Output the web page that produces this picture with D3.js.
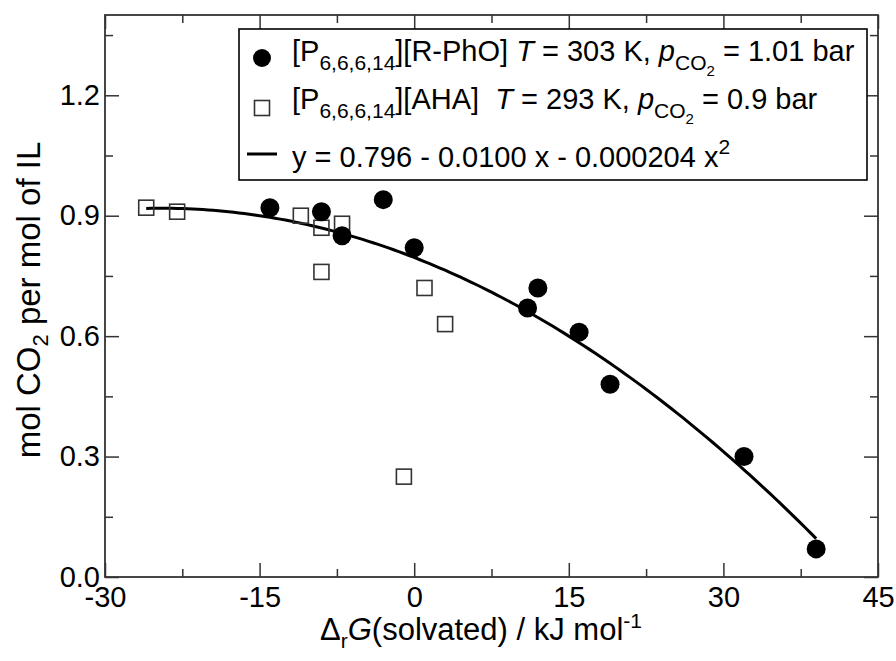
<!DOCTYPE html>
<html>
<head>
<meta charset="utf-8">
<script src="https://cdn.jsdelivr.net/npm/d3@7"></script>
<style>
  body { margin: 0; background: #fff; }
  text { font-family: "Liberation Sans", Arial, Helvetica, sans-serif; white-space: pre; }
</style>
</head>
<body>
<script>
// [P6,6,6,14][R-PhO] data (filled circles)
var phoX = [-14, -9, -7, -3, 0, 11, 12, 16, 19, 32, 39];
var phoY = [0.92, 0.91, 0.85, 0.94, 0.82, 0.67, 0.72, 0.61, 0.48, 0.30, 0.07];
// [P6,6,6,14][AHA] data (open squares)
var ahaX = [-26, -23, -11, -9, -7, -9, 1, 3, -1];
var ahaY = [0.92, 0.91, 0.90, 0.87, 0.88, 0.76, 0.72, 0.63, 0.25];
// fitted quadratic y = a + b x + c x^2, drawn over this x range
var fitCoef = [0.796, -0.0100, -0.000204];
var fitRange = [-26, 39];

var xTicks = [-30, -15, 0, 15, 30, 45];
var xMinor = [-22.5, -7.5, 7.5, 22.5, 37.5];
var yTicks = [0, 0.3, 0.6, 0.9, 1.2];
var yMinor = [0.15, 0.45, 0.75, 1.05, 1.35];

var w = 896, h = 661;
var pLeft = 105, pRight = 878, pTop = 15, pBottom = 577;

var svg = d3.select("body")
    .append("svg")
    .attr("width", w)
    .attr("height", h);

var x = d3.scaleLinear().domain([-30, 45]).range([pLeft, pRight]);
var y = d3.scaleLinear().domain([0, 1.4]).range([pBottom, pTop]);

function styleAxis(g) {
    g.select(".domain").remove();
    g.selectAll("line").attr("stroke", "#333").attr("stroke-width", 1.5);
    g.selectAll("text")
        .attr("font-family", "Liberation Sans, Arial, sans-serif")
        .attr("font-size", "29px")
        .attr("fill", "#000");
}

// major ticks with labels
svg.append("g")
    .attr("transform", "translate(0," + pBottom + ")")
    .call(d3.axisBottom(x).tickValues(xTicks).tickSize(-14).tickPadding(9)
        .tickFormat(function(d){ return String(d); }))
    .call(styleAxis);
svg.append("g")
    .attr("transform", "translate(" + pLeft + ",0)")
    .call(d3.axisLeft(y).tickValues(yTicks).tickSize(-14).tickPadding(5)
        .tickFormat(d3.format(".1f")))
    .call(styleAxis);
// mirrored ticks on top and right
svg.append("g")
    .attr("transform", "translate(0," + pTop + ")")
    .call(d3.axisTop(x).tickValues(xTicks).tickSize(-14).tickFormat(""))
    .call(styleAxis);
svg.append("g")
    .attr("transform", "translate(" + pRight + ",0)")
    .call(d3.axisRight(y).tickValues(yTicks).tickSize(-14).tickFormat(""))
    .call(styleAxis);
// minor ticks
svg.append("g").attr("transform", "translate(0," + pBottom + ")")
    .call(d3.axisBottom(x).tickValues(xMinor).tickSize(-8).tickFormat("")).call(styleAxis);
svg.append("g").attr("transform", "translate(0," + pTop + ")")
    .call(d3.axisTop(x).tickValues(xMinor).tickSize(-8).tickFormat("")).call(styleAxis);
svg.append("g").attr("transform", "translate(" + pLeft + ",0)")
    .call(d3.axisLeft(y).tickValues(yMinor).tickSize(-8).tickFormat("")).call(styleAxis);
svg.append("g").attr("transform", "translate(" + pRight + ",0)")
    .call(d3.axisRight(y).tickValues(yMinor).tickSize(-8).tickFormat("")).call(styleAxis);

// frame
svg.append("rect")
    .attr("x", pLeft)
    .attr("y", pTop)
    .attr("width", pRight - pLeft)
    .attr("height", pBottom - pTop)
    .attr("fill", "none")
    .attr("stroke", "#333")
    .attr("stroke-width", 1.8);

// fit curve
var fitPts = d3.range(fitRange[0], fitRange[1] + 0.01, 0.5).map(function(v){
    return [v, fitCoef[0] + fitCoef[1] * v + fitCoef[2] * v * v];
});
svg.append("path")
    .datum(fitPts)
    .attr("d", d3.line()
        .x(function(d){ return x(d[0]); })
        .y(function(d){ return y(d[1]); }))
    .attr("fill", "none")
    .attr("stroke", "#000")
    .attr("stroke-width", 3);

// open squares
svg.selectAll("rect.aha")
    .data(ahaX)
    .enter()
    .append("rect")
    .attr("class", "aha")
    .attr("x", function(d){ return x(d) - 7.5; })
    .attr("y", function(d, i){ return y(ahaY[i]) - 7.5; })
    .attr("width", 15)
    .attr("height", 15)
    .attr("fill", "none")
    .attr("stroke", "#333")
    .attr("stroke-width", 1.6);

// filled circles
svg.selectAll("circle.pho")
    .data(phoX)
    .enter()
    .append("circle")
    .attr("class", "pho")
    .attr("cx", function(d){ return x(d); })
    .attr("cy", function(d, i){ return y(phoY[i]); })
    .attr("r", 9.5)
    .attr("fill", "#000");

// legend
var lg = svg.append("g");
lg.append("rect")
    .attr("x", 239).attr("y", 29)
    .attr("width", 628).attr("height", 151)
    .attr("fill", "#fff")
    .attr("stroke", "#000")
    .attr("stroke-width", 1.6);
lg.append("circle").attr("cx", 262).attr("cy", 58).attr("r", 9).attr("fill", "#000");
lg.append("rect").attr("x", 254.5).attr("y", 100.5).attr("width", 15).attr("height", 15)
    .attr("fill", "none").attr("stroke", "#333").attr("stroke-width", 1.6);
lg.append("line").attr("x1", 247).attr("x2", 277).attr("y1", 154).attr("y2", 154)
    .attr("stroke", "#000").attr("stroke-width", 3);

// rich text helper: parts = [text, {size, dy, italic}]
function rich(g, px, py, parts, size) {
    var t = g.append("text").attr("x", px).attr("y", py)
        .attr("font-size", size + "px").attr("fill", "#000");
    parts.forEach(function(p){
        var s = t.append("tspan").text(p[0]);
        if (p[1]) {
            if (p[1].size) s.attr("font-size", p[1].size + "px");
            if (p[1].dy) s.attr("dy", p[1].dy);
            if (p[1].italic) s.attr("font-style", "italic");
        }
    });
    return t;
}

rich(lg, 292, 61, [
    ["[P"], ["6,6,6,14", {size: 21, dy: 9}], ["][R-PhO] ", {dy: -9}],
    ["T", {italic: true}], [" = 303 K, "], ["p", {italic: true}],
    ["CO", {size: 21, dy: 9}], ["2", {size: 15, dy: 6}], [" = 1.01 bar", {dy: -15}]
], 29);
rich(lg, 292, 109, [
    ["[P"], ["6,6,6,14", {size: 21, dy: 9}], ["][AHA]  ", {dy: -9}],
    ["T", {italic: true}], [" = 293 K, "], ["p", {italic: true}],
    ["CO", {size: 21, dy: 9}], ["2", {size: 15, dy: 6}], [" = 0.9 bar", {dy: -15}]
], 29);
rich(lg, 292, 167, [
    ["y = 0.796 - 0.0100 x - 0.000204 x"], ["2", {size: 21, dy: -13}]
], 29);

// axis titles
rich(svg, 481, 640, [
    ["\u0394"], ["r", {size: 21, dy: 8}], ["G", {italic: true, dy: -8}],
    ["(solvated) / kJ mol"], ["-1", {size: 21, dy: -12}]
], 31).attr("text-anchor", "middle");

rich(svg.append("g").attr("transform", "translate(40,300) rotate(-90)"), 0, 0, [
    ["mol CO"], ["2", {size: 22, dy: 8}], [" per mol of IL", {dy: -8}]
], 33).attr("text-anchor", "middle");
</script>
</body>
</html>
